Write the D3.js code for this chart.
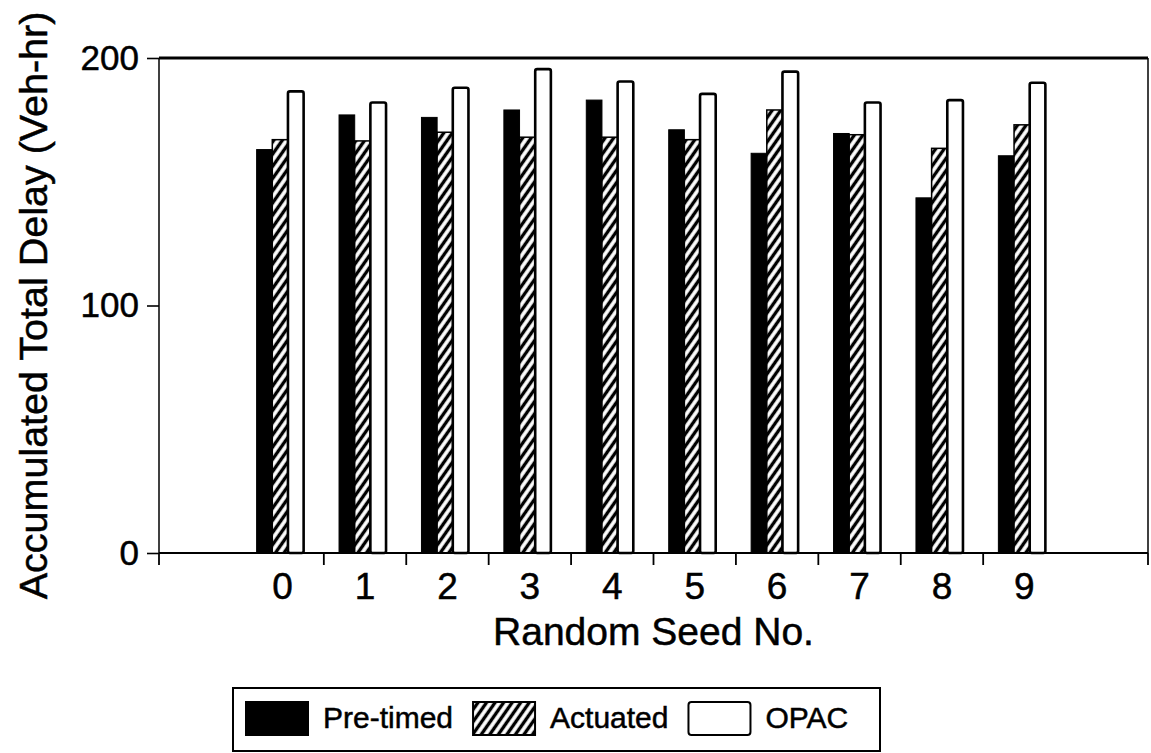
<!DOCTYPE html>
<html>
<head>
<meta charset="utf-8">
<script src="https://cdn.jsdelivr.net/npm/d3@7"></script>
<style>
  body { margin: 0; background: #fff; }
  svg text { font-family: "Liberation Sans", Arial, Helvetica, sans-serif; fill: #000; stroke: #000; stroke-width: 0.5px; }
</style>
</head>
<body>
<svg id="chart" width="1151" height="753"></svg>
<script>
// Accumulated total delay per random seed, three signal control strategies
const seeds = ['0', '1', '2', '3', '4', '5', '6', '7', '8', '9'];
const pretimed = [163, 177, 176, 179, 183, 171, 161.5, 169.5, 143.5, 160.5];
const actuated = [167, 166.5, 170, 168, 168, 167, 179, 169, 163.5, 173];
const opac = [186.5, 182, 188, 195.5, 190.5, 185.5, 194.5, 182, 183, 190];
const seriesNames = ['Pre-timed', 'Actuated', 'OPAC'];
const yTicks = [0, 100, 200];

const series = [
  { name: seriesNames[0], values: pretimed, fill: '#000', stroke: '#000', sw: 1 },
  { name: seriesNames[1], values: actuated, fill: 'url(#hatch)', stroke: '#000', sw: 1.5 },
  { name: seriesNames[2], values: opac, fill: '#fff', stroke: '#000', sw: 2.6 },
];

const svg = d3.select('#chart');
const plotL = 159, plotR = 1148, plotT = 58, plotB = 553;

// hatch pattern for the Actuated bars
const defs = svg.append('defs');
const hatch = defs.append('pattern')
  .attr('id', 'hatch')
  .attr('patternUnits', 'userSpaceOnUse')
  .attr('width', 7).attr('height', 7)
  .attr('patternTransform', 'rotate(35)');
hatch.append('rect').attr('width', 7).attr('height', 7).attr('fill', '#fff');
hatch.append('line')
  .attr('x1', 3.5).attr('x2', 3.5).attr('y1', 0).attr('y2', 7)
  .attr('stroke', '#000').attr('stroke-width', 3.4);

// one empty slot each side of the seeds
const slots = ['padL', ...seeds, 'padR'];
const x0 = d3.scaleBand().domain(slots).range([plotL, plotR]);
const groupW = 47;
const x1 = d3.scaleBand().domain(seriesNames).range([0, groupW]);
const shift = (x0.bandwidth() - groupW) / 2 - 2.5;
const y = d3.scaleLinear().domain([0, 200]).range([plotB, plotT]);

// bars
const groups = svg.append('g').selectAll('g')
  .data(seeds)
  .enter().append('g')
  .attr('transform', s => `translate(${x0(s) + shift},0)`);

groups.selectAll('rect')
  .data((s, i) => series.map(sr => ({ sr, v: sr.values[i] })))
  .enter().append('rect')
  .attr('x', d => x1(d.sr.name))
  .attr('y', d => y(d.v))
  .attr('width', x1.bandwidth())
  .attr('height', d => y(0) - y(d.v))
  .attr('rx', d => d.sr.name === 'OPAC' ? 2 : 0)
  .attr('fill', d => d.sr.fill)
  .attr('stroke', d => d.sr.stroke)
  .attr('stroke-width', d => d.sr.sw);

// frame
const frame = svg.append('g').attr('stroke', '#000').attr('fill', 'none');
frame.append('line').attr('x1', plotL).attr('x2', plotR).attr('y1', plotT).attr('y2', plotT).attr('stroke-width', 3);
frame.append('line').attr('x1', plotR).attr('x2', plotR).attr('y1', plotT).attr('y2', plotB).attr('stroke-width', 1.5);
frame.append('line').attr('x1', plotL).attr('x2', plotL).attr('y1', plotT).attr('y2', plotB).attr('stroke-width', 1.5);
frame.append('line').attr('x1', plotL).attr('x2', plotR).attr('y1', plotB).attr('y2', plotB).attr('stroke-width', 2.2);

// y axis
const yAxis = svg.append('g')
  .attr('transform', `translate(${plotL},0)`)
  .call(d3.axisLeft(y).tickValues(yTicks).tickSize(12).tickPadding(8));
yAxis.select('.domain').remove();
yAxis.selectAll('line').attr('stroke-width', 1.6);
yAxis.selectAll('text').attr('font-size', 35).attr('font-family', null);

// x axis: seed labels centred in bands, ticks on the boundaries
const xAxis = svg.append('g')
  .attr('transform', `translate(0,${plotB})`)
  .call(d3.axisBottom(x0).tickValues(seeds).tickSize(0).tickPadding(20));
xAxis.select('.domain').remove();
xAxis.selectAll('text').attr('font-size', 37).attr('font-family', null);

const bounds = [plotL, ...seeds.slice(1).map(s => x0(s)), plotR];
svg.append('g').selectAll('line')
  .data(bounds)
  .enter().append('line')
  .attr('x1', d => d).attr('x2', d => d)
  .attr('y1', plotB).attr('y2', plotB + 12)
  .attr('stroke', '#000').attr('stroke-width', 1.8);

// axis titles
svg.append('text')
  .attr('x', (plotL + plotR) / 2).attr('y', 645)
  .attr('text-anchor', 'middle').attr('font-size', 39)
  .text('Random Seed No.');

svg.append('text')
  .attr('transform', `translate(47,${(plotT + plotB) / 2}) rotate(-90)`)
  .attr('text-anchor', 'middle').attr('font-size', 39.5)
  .text('Accumulated Total Delay (Veh-hr)');

// legend
const legend = svg.append('g');
legend.append('rect')
  .attr('x', 233).attr('y', 688).attr('width', 647).attr('height', 63)
  .attr('fill', 'none').attr('stroke', '#000').attr('stroke-width', 2);

let lx = 246;
series.forEach(sr => {
  legend.append('rect')
    .attr('x', lx).attr('y', 702).attr('width', 62).attr('height', 33)
    .attr('rx', sr.name === 'OPAC' ? 3 : 0)
    .attr('fill', sr.fill).attr('stroke', '#000').attr('stroke-width', 2);
  lx += 62 + 15;
  const t = legend.append('text')
    .attr('x', lx).attr('y', 728).attr('font-size', 30)
    .text(sr.name);
  lx += t.node().getComputedTextLength() + 20;
});
</script>
</body>
</html>
